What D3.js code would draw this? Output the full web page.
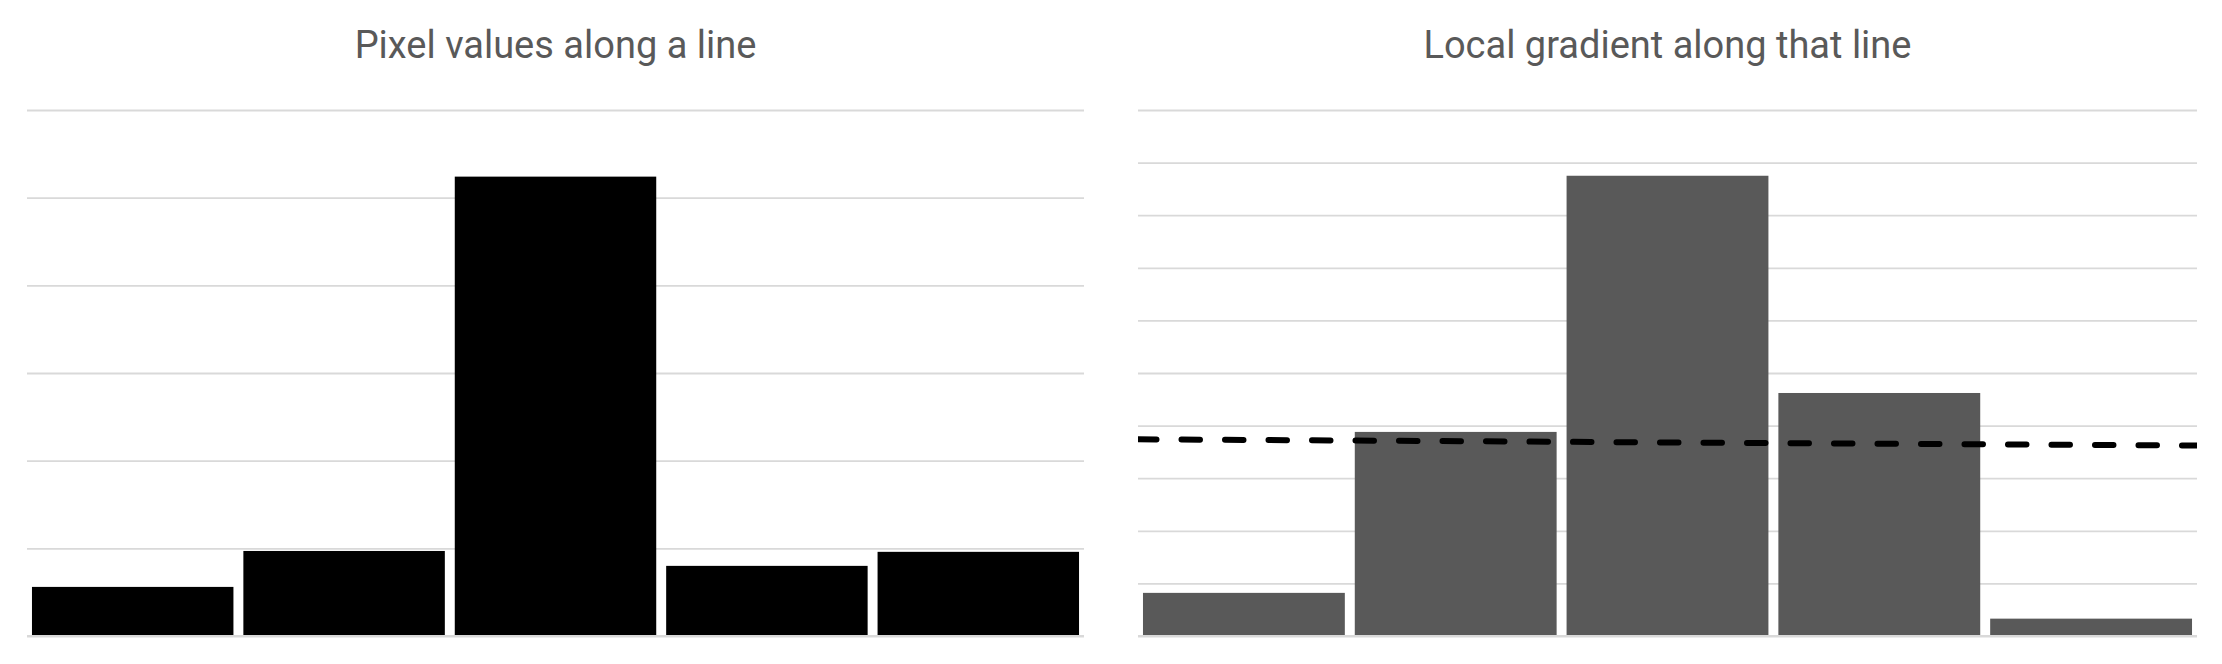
<!DOCTYPE html>
<html>
<head>
  <meta charset="utf-8">
  <title>Pixel values and local gradient</title>
  <script src="https://d3js.org/d3.v7.min.js"></script>
  <style>
    html, body { margin: 0; padding: 0; background: #fff; }
  </style>
</head>
<body>
<div id="chart"></div>
<script>
  // data
  var positions = ["1", "2", "3", "4", "5"];
  var pixelValues = [28, 48.5, 262, 40, 48];
  var gradientValues = [8.2, 38.8, 87.5, 46.2, 3.3];
  var pixelTicks = [0, 50, 100, 150, 200, 250, 300];
  var gradientTicks = [0, 10, 20, 30, 40, 50, 60, 70, 80, 90, 100];
  var titles = ["Pixel values along a line", "Local gradient along that line"];

  var W = 2222, H = 664;
  var svg = d3.select("#chart").append("svg")
    .attr("width", W)
    .attr("height", H);

  var panels = [
    { title: titles[0], values: pixelValues, ticks: pixelTicks, x0: 27, x1: 1084, fill: "#000000", trend: false },
    { title: titles[1], values: gradientValues, ticks: gradientTicks, x0: 1138, x1: 2197, fill: "#595959", trend: true }
  ];

  var plotTop = 110, plotBottom = 636;

  panels.forEach(function(p, k) {
    var g = svg.append("g");

    var x = d3.scaleBand()
      .domain(positions)
      .range([p.x0, p.x1])
      .paddingInner(0.047)
      .paddingOuter(0.0235);

    var y = d3.scaleLinear()
      .domain([p.ticks[0], p.ticks[p.ticks.length - 1]])
      .range([plotBottom, plotTop]);

    // gridlines
    var yAxis = d3.axisLeft(y)
      .tickValues(p.ticks)
      .tickSize(-(p.x1 - p.x0))
      .tickFormat("");
    var ga = g.append("g")
      .attr("transform", "translate(" + p.x0 + ",0)")
      .call(yAxis);
    ga.select(".domain").remove();
    ga.selectAll(".tick line")
      .attr("stroke", "#d9d9d9")
      .attr("stroke-width", 1.8);

    // bars
    g.selectAll("rect.bar")
      .data(p.values)
      .enter().append("rect")
      .attr("class", "bar")
      .attr("x", function(d, i) { return x(positions[i]); })
      .attr("width", x.bandwidth())
      .attr("y", function(d) { return y(d); })
      .attr("height", function(d) { return y(0) - y(d); })
      .attr("fill", p.fill);

    // baseline drawn over the bars
    g.append("line")
      .attr("x1", p.x0).attr("x2", p.x1)
      .attr("y1", y(0)).attr("y2", y(0))
      .attr("stroke", "#d9d9d9")
      .attr("stroke-width", 1.8);

    // linear trendline over the columns
    if (p.trend) {
      var n = p.values.length;
      var mx = (n + 1) / 2, my = d3.mean(p.values);
      var sxy = 0, sxx = 0;
      p.values.forEach(function(v, i) {
        sxy += (i + 1 - mx) * (v - my);
        sxx += (i + 1 - mx) * (i + 1 - mx);
      });
      var slope = sxy / sxx;
      var xl = d3.scaleLinear().domain([0.5, n + 0.5]).range([p.x0, p.x1]);
      var ends = [0.5, n + 0.5].map(function(t) { return [t, my + slope * (t - mx)]; });

      svg.append("clipPath").attr("id", "clip" + k)
        .append("rect")
        .attr("x", p.x0).attr("y", 0)
        .attr("width", p.x1 - p.x0).attr("height", H);

      g.append("path")
        .datum(ends)
        .attr("clip-path", "url(#clip" + k + ")")
        .attr("d", d3.line()
          .x(function(d) { return xl(d[0]); })
          .y(function(d) { return y(d[1]); }))
        .attr("fill", "none")
        .attr("stroke", "#000")
        .attr("stroke-width", 6)
        .attr("stroke-linecap", "round")
        .attr("stroke-dasharray", "18.5 25");
    }

    // title
    g.append("text")
      .attr("x", (p.x0 + p.x1) / 2)
      .attr("y", 58)
      .attr("text-anchor", "middle")
      .style("font-family", "Roboto, 'Noto Sans', sans-serif")
      .style("font-size", "38px")
      .style("fill", "#595959")
      .text(p.title);
  });
</script>
</body>
</html>
